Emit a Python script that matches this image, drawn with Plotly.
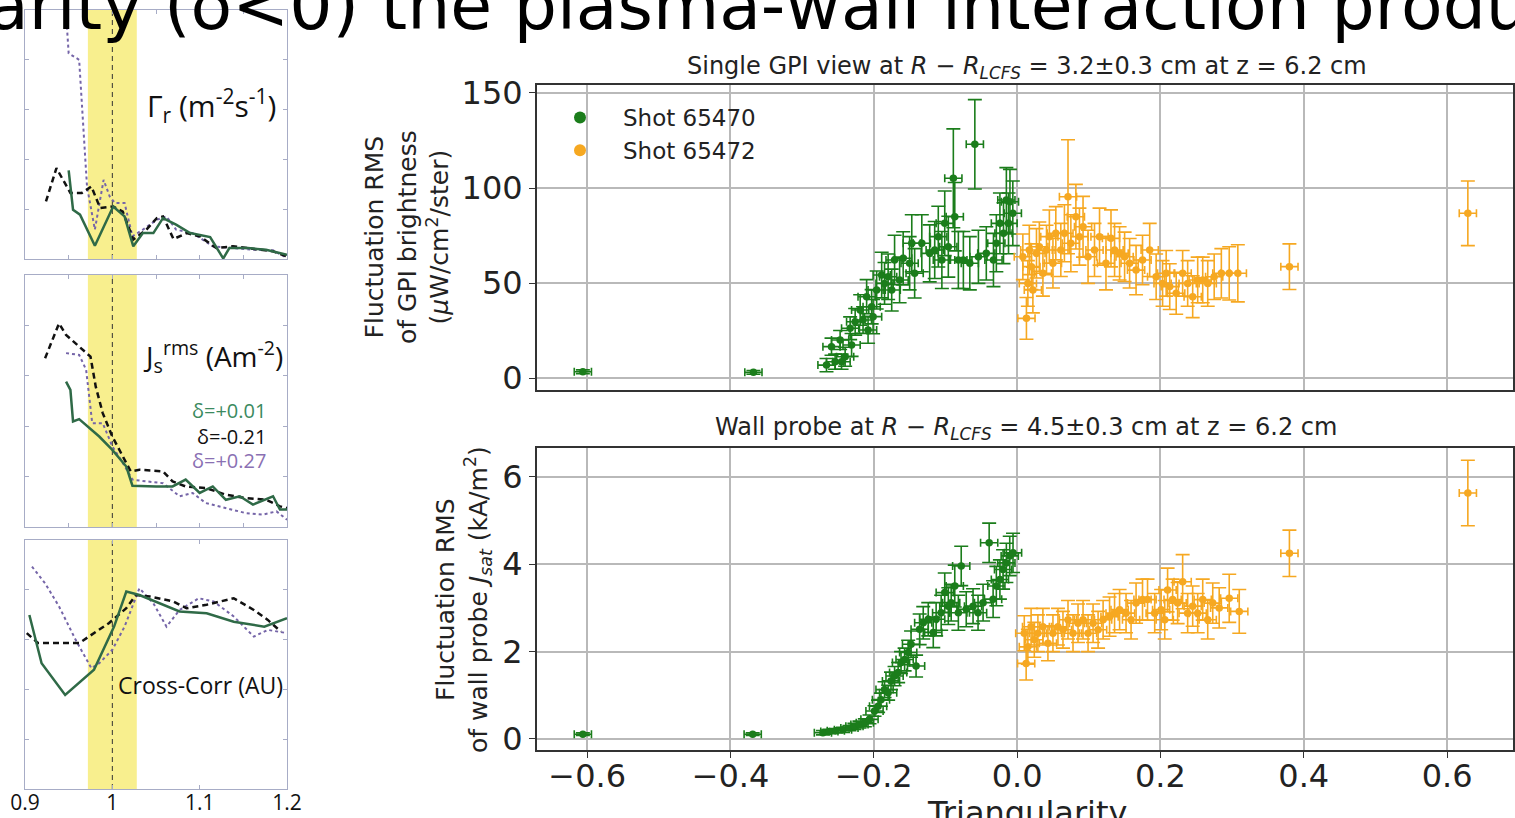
import plotly.graph_objects as go

W, H = 1515, 818

# ---------------- left column: radial profiles vs R/R_sep ----------------
# Gamma_r panel
gam_dot_x = [0.948, 0.950, 0.962, 0.971, 0.980, 0.990, 0.997, 1.003, 1.014, 1.023, 1.035, 1.051, 1.062, 1.073, 1.092, 1.115, 1.138, 1.161, 1.184, 1.200]
gam_dot_y = [0.933, 0.826, 0.800, 0.291, 0.118, 0.318, 0.251, 0.225, 0.225, 0.091, 0.118, 0.158, 0.171, 0.118, 0.104, 0.051, 0.044, 0.037, 0.035, 0.004]
gam_dash_x = [0.924, 0.936, 0.952, 0.965, 0.976, 0.986, 1.001, 1.012, 1.024, 1.039, 1.051, 1.058, 1.070, 1.085, 1.100, 1.119, 1.138, 1.161, 1.184, 1.200]
gam_dash_y = [0.231, 0.365, 0.265, 0.265, 0.291, 0.205, 0.211, 0.190, 0.078, 0.118, 0.164, 0.171, 0.080, 0.104, 0.091, 0.044, 0.051, 0.040, 0.031, 0.010]
gam_sol_x = [0.950, 0.955, 0.963, 0.980, 1.001, 1.014, 1.024, 1.035, 1.047, 1.058, 1.073, 1.089, 1.112, 1.127, 1.134, 1.155, 1.176, 1.200]
gam_sol_y = [0.356, 0.198, 0.178, 0.053, 0.211, 0.171, 0.051, 0.104, 0.104, 0.164, 0.138, 0.104, 0.088, 0.002, 0.044, 0.044, 0.037, 0.017]

# J_s rms panel
js_dash_x = [0.923, 0.939, 0.947, 0.962, 0.975, 0.981, 0.989, 1.000, 1.012, 1.021, 1.031, 1.058, 1.069, 1.084, 1.107, 1.130, 1.153, 1.176, 1.192, 1.200]
js_dash_y = [0.670, 0.808, 0.762, 0.716, 0.676, 0.557, 0.452, 0.359, 0.280, 0.221, 0.227, 0.221, 0.181, 0.161, 0.155, 0.128, 0.115, 0.108, 0.082, 0.075]
js_dot_x = [0.947, 0.962, 0.970, 0.977, 0.989, 1.000, 1.012, 1.023, 1.039, 1.058, 1.077, 1.092, 1.107, 1.130, 1.153, 1.172, 1.188, 1.200]
js_dot_y = [0.690, 0.683, 0.624, 0.412, 0.412, 0.320, 0.254, 0.188, 0.181, 0.174, 0.122, 0.135, 0.095, 0.075, 0.055, 0.049, 0.062, 0.029]
js_sol_x = [0.947, 0.952, 0.955, 0.962, 0.985, 1.000, 1.016, 1.023, 1.050, 1.069, 1.084, 1.100, 1.115, 1.130, 1.146, 1.161, 1.184, 1.192, 1.200]
js_sol_y = [0.577, 0.544, 0.419, 0.428, 0.359, 0.306, 0.240, 0.164, 0.161, 0.161, 0.188, 0.135, 0.161, 0.108, 0.122, 0.089, 0.122, 0.069, 0.069]

# Cross-correlation panel
cc_dot_x = [0.908, 0.923, 0.939, 0.958, 0.976, 0.985, 1.000, 1.014, 1.031, 1.047, 1.062, 1.077, 1.099, 1.116, 1.139, 1.162, 1.178, 1.200]
cc_dot_y = [0.893, 0.826, 0.733, 0.599, 0.485, 0.505, 0.559, 0.652, 0.806, 0.746, 0.652, 0.719, 0.766, 0.753, 0.693, 0.612, 0.639, 0.626]
cc_dash_x = [0.902, 0.915, 0.962, 0.973, 0.996, 1.016, 1.027, 1.043, 1.070, 1.085, 1.108, 1.139, 1.162, 1.178, 1.193]
cc_dash_y = [0.626, 0.586, 0.586, 0.612, 0.666, 0.726, 0.779, 0.773, 0.753, 0.726, 0.740, 0.766, 0.719, 0.679, 0.632]
cc_sol_x = [0.905, 0.919, 0.946, 0.979, 1.002, 1.016, 1.031, 1.050, 1.077, 1.108, 1.139, 1.174, 1.200]
cc_sol_y = [0.699, 0.505, 0.378, 0.479, 0.652, 0.793, 0.779, 0.753, 0.713, 0.706, 0.672, 0.652, 0.686]

sep_band = [0.972, 1.028]
sep_pos = 1.0
profile_ticks = [0.9, 1.0, 1.1, 1.2]
profile_ticktext = ["0.9", "1", "1.1", "1.2"]
delta_labels = ["δ=+0.01", "δ=-0.21", "δ=+0.27"]

# ---------------- right column: fluctuation RMS vs triangularity ----------------
gpi_470_x = [-0.606, -0.368, -0.266, -0.259, -0.254, -0.247, -0.245, -0.240, -0.233, -0.231, -0.226, -0.219,
             -0.215, -0.210, -0.208, -0.203, -0.201, -0.196, -0.189, -0.185, -0.180, -0.175, -0.171, -0.164,
             -0.159, -0.150, -0.147, -0.143, -0.133, -0.122, -0.115, -0.110, -0.105, -0.101, -0.096, -0.089,
             -0.087, -0.082, -0.075, -0.066, -0.059, -0.054, -0.043, -0.033, -0.029, -0.024, -0.019, -0.015,
             -0.012, -0.010, -0.006]
gpi_470_y = [3.3, 3.0, 6.8, 16.5, 8.6, 20.0, 8.6, 11.2, 26.2, 17.4, 29.6, 35.8,
             30.5, 42.8, 25.3, 37.5, 32.3, 46.3, 54.2, 49.8, 53.3, 46.3, 62.1, 51.6,
             63.0, 60.4, 70.9, 55.1, 70.9, 65.6, 67.4, 74.4, 62.1, 81.4, 69.1, 105.1,
             84.9, 62.1, 62.1, 60.4, 123.0, 63.8, 65.6, 62.1, 70.9, 81.4, 76.2, 93.7,
             81.4, 92.8, 86.7]
gpi_470_err = [1.0, 1.0, 3.5, 4.5, 4.0, 5.0, 4.0, 5.0, 6.0, 6.0, 7.0, 8.0,
               7.0, 9.0, 7.0, 9.0, 9.0, 10.0, 12.0, 11.0, 12.0, 11.0, 13.0, 12.0,
               14.0, 14.0, 15.0, 13.0, 15.0, 15.0, 15.0, 16.0, 15.0, 17.0, 16.0, 26.0,
               18.0, 15.0, 15.0, 14.0, 23.5, 14.0, 14.0, 14.0, 15.0, 16.0, 16.0, 17.0,
               16.0, 17.0, 17.0]

gpi_472_x = [0.008, 0.013, 0.015, 0.017, 0.020, 0.022, 0.027, 0.031, 0.036, 0.041, 0.045, 0.050,
             0.054, 0.061, 0.066, 0.071, 0.075, 0.082, 0.087, 0.092, 0.099, 0.108, 0.115, 0.124,
             0.131, 0.136, 0.143, 0.150, 0.157, 0.166, 0.175, 0.185, 0.194, 0.203, 0.208, 0.213,
             0.222, 0.231, 0.238, 0.245, 0.252, 0.259, 0.266, 0.275, 0.285, 0.296, 0.308, 0.380, 0.629]
gpi_472_y = [63.8, 31.4, 49.8, 67.4, 58.6, 46.3, 65.6, 69.1, 55.1, 67.4, 74.4, 60.4,
             76.2, 67.4, 76.2, 95.4, 70.9, 84.9, 74.4, 79.6, 63.8, 67.4, 74.4, 60.4,
             73.5, 67.4, 65.6, 63.8, 60.4, 56.8, 62.1, 67.4, 53.3, 49.8, 55.1, 48.1,
             44.6, 55.1, 49.8, 42.8, 51.6, 51.6, 49.8, 53.3, 55.1, 55.1, 55.1, 58.6, 86.7]
gpi_472_err = [12, 11, 12, 13, 12, 12, 13, 13, 12, 13, 14, 13,
               14, 14, 15, 30, 15, 17, 15, 16, 14, 14, 15, 14,
               15, 14, 14, 13, 13, 13, 13, 14, 12, 12, 12, 12,
               11, 12, 12, 11, 12, 12, 12, 12, 13, 14, 15, 12, 17]

wall_470_x = [-0.606, -0.369, -0.271, -0.262, -0.253, -0.243, -0.234, -0.227, -0.220, -0.2125, -0.206, -0.199,
              -0.194, -0.190, -0.185, -0.180, -0.176, -0.171, -0.166, -0.162, -0.157, -0.152, -0.148, -0.141,
              -0.136, -0.131, -0.124, -0.117, -0.113, -0.106, -0.101, -0.096, -0.092, -0.087, -0.082, -0.078,
              -0.071, -0.0615, -0.0545, -0.0475, -0.039, -0.0335, -0.029, -0.024, -0.0196, -0.015, -0.0103, -0.0057]
wall_470_y = [0.11, 0.11, 0.145, 0.17, 0.19, 0.21, 0.25, 0.29, 0.33, 0.37, 0.45, 0.64,
              0.75, 0.90, 1.13, 1.06, 1.33, 1.44, 1.52, 1.75, 1.82, 1.98, 2.17, 1.67,
              2.51, 2.66, 2.74, 2.44, 2.74, 2.89, 3.35, 3.04, 3.12, 3.50, 2.89, 3.96,
              2.97, 3.04, 2.89, 3.12, 4.49, 3.20, 3.50, 3.65, 3.88, 4.03, 4.19, 4.26]
wall_470_err = [0.03, 0.03, 0.05, 0.05, 0.05, 0.06, 0.06, 0.07, 0.08, 0.09, 0.10, 0.12,
                0.14, 0.15, 0.18, 0.17, 0.20, 0.22, 0.23, 0.25, 0.26, 0.28, 0.30, 0.25,
                0.35, 0.37, 0.38, 0.35, 0.38, 0.40, 0.45, 0.42, 0.42, 0.48, 0.40, 0.45,
                0.40, 0.40, 0.40, 0.42, 0.45, 0.42, 0.45, 0.45, 0.45, 0.45, 0.45, 0.45]

wall_472_x = [0.010, 0.0126, 0.015, 0.0195, 0.024, 0.029, 0.036, 0.043, 0.050, 0.057, 0.064, 0.071,
              0.078, 0.085, 0.092, 0.099, 0.106, 0.113, 0.120, 0.129, 0.136, 0.143, 0.152, 0.159,
              0.166, 0.175, 0.182, 0.192, 0.201, 0.206, 0.210, 0.217, 0.224, 0.231, 0.238, 0.245,
              0.252, 0.259, 0.266, 0.273, 0.282, 0.296, 0.310, 0.380, 0.629]
wall_472_y = [2.42, 1.73, 2.11, 2.57, 2.27, 2.42, 2.57, 2.19, 2.42, 2.57, 2.50, 2.73,
              2.42, 2.65, 2.73, 2.42, 2.65, 2.50, 2.73, 2.80, 2.88, 2.96, 2.88, 2.73,
              3.11, 3.19, 3.19, 2.88, 2.96, 2.73, 3.41, 3.19, 3.11, 3.60, 2.88, 3.04,
              2.88, 3.19, 2.73, 3.11, 3.00, 3.22, 2.92, 4.25, 5.63]
wall_472_err = [0.40, 0.38, 0.40, 0.42, 0.40, 0.42, 0.42, 0.40, 0.42, 0.42, 0.42, 0.44,
                0.42, 0.44, 0.44, 0.42, 0.44, 0.42, 0.44, 0.45, 0.45, 0.46, 0.45, 0.44,
                0.46, 0.47, 0.47, 0.45, 0.46, 0.44, 0.50, 0.47, 0.47, 0.62, 0.45, 0.46,
                0.45, 0.47, 0.44, 0.46, 0.46, 0.55, 0.50, 0.53, 0.75]

tri_xerr = 0.012
tri_ticks = [-0.6, -0.4, -0.2, 0.0, 0.2, 0.4, 0.6]
tri_ticktext = ["\u22120.6", "\u22120.4", "\u22120.2", "0.0", "0.2", "0.4", "0.6"]

GREEN_PROF = "#2f6a47"
PURPLE_PROF = "#7565a8"
GREEN = "#1b7d1b"
ORANGE = "#f6a821"
FRAME = "#a7acc6"


def dom_x(a, b):
    return [a / W, b / W]


def dom_y(top, bottom):
    return [1 - bottom / H, 1 - top / H]


fig = go.Figure()

profiles = [
    (1, (gam_sol_x, gam_sol_y), (gam_dash_x, gam_dash_y), (gam_dot_x, gam_dot_y)),
    (2, (js_sol_x, js_sol_y), (js_dash_x, js_dash_y), (js_dot_x, js_dot_y)),
    (3, (cc_sol_x, cc_sol_y), (cc_dash_x, cc_dash_y), (cc_dot_x, cc_dot_y)),
]
for k, sol, dash, dot in profiles:
    xa, ya = ("x" if k == 1 else f"x{k}"), ("y" if k == 1 else f"y{k}")
    fig.add_trace(go.Scatter(x=dot[0], y=dot[1], mode="lines", xaxis=xa, yaxis=ya, showlegend=False,
                             line=dict(color=PURPLE_PROF, width=2, dash="dot")))
    fig.add_trace(go.Scatter(x=dash[0], y=dash[1], mode="lines", xaxis=xa, yaxis=ya, showlegend=False,
                             line=dict(color="#111111", width=2.5, dash="6px,4px")))
    fig.add_trace(go.Scatter(x=sol[0], y=sol[1], mode="lines", xaxis=xa, yaxis=ya, showlegend=False,
                             line=dict(color=GREEN_PROF, width=2.5)))


def err_trace(x, y, err, color, name, xa, ya, legend):
    return go.Scatter(
        x=x, y=y, mode="markers", name=name, xaxis=xa, yaxis=ya, showlegend=legend,
        marker=dict(color=color, size=7.5),
        error_y=dict(type="data", array=err, color=color, thickness=1.6, width=7),
        error_x=dict(type="constant", value=tri_xerr, color=color, thickness=1.6, width=4),
    )


fig.add_trace(err_trace(gpi_470_x, gpi_470_y, gpi_470_err, GREEN, "Shot 65470", "x4", "y4", True))
fig.add_trace(err_trace(gpi_472_x, gpi_472_y, gpi_472_err, ORANGE, "Shot 65472", "x4", "y4", True))
fig.add_trace(err_trace(wall_470_x, wall_470_y, wall_470_err, GREEN, "Shot 65470", "x5", "y5", False))
fig.add_trace(err_trace(wall_472_x, wall_472_y, wall_472_err, ORANGE, "Shot 65472", "x5", "y5", False))

# profile panel axes
prof_box = [(10, 259), (275, 527), (540, 789)]
prof_x = dict(range=[0.9, 1.2], showline=True, linecolor=FRAME, linewidth=1, mirror="ticks",
              ticks="inside", ticklen=4, tickcolor=FRAME, showgrid=False, zeroline=False,
              tickvals=[0.95, 1.0, 1.05, 1.1, 1.15], showticklabels=False, automargin=False)
prof_y = dict(range=[0, 1], showline=True, linecolor=FRAME, linewidth=1, mirror="ticks",
              ticks="inside", ticklen=4, tickcolor=FRAME, showgrid=False, zeroline=False,
              tickvals=[0.2, 0.4, 0.6, 0.8], showticklabels=False, automargin=False)
layout_axes = {}
for k, (t, b) in enumerate(prof_box, start=1):
    sx = "xaxis" if k == 1 else f"xaxis{k}"
    sy = "yaxis" if k == 1 else f"yaxis{k}"
    ax = dict(prof_x, domain=dom_x(25, 287), anchor="y" if k == 1 else f"y{k}")
    if k == 3:
        ax.update(showticklabels=True, tickvals=profile_ticks, ticktext=profile_ticktext,
                  ticklabelstandoff=-5, tickfont=dict(family="Open Sans", size=21, color="#111"))
    layout_axes[sx] = ax
    layout_axes[sy] = dict(prof_y, domain=dom_y(t, b), anchor="x" if k == 1 else f"x{k}")

# triangularity axes
tri_x = dict(range=[-0.670, 0.692], tickvals=tri_ticks, ticktext=tri_ticktext, showgrid=True,
             gridcolor="#b9b9b9", gridwidth=1.5, showline=True, linecolor="#333", linewidth=2,
             mirror=True, zeroline=False, domain=dom_x(537, 1513), automargin=False,
             tickfont=dict(family="DejaVu Sans", size=32, color="#222"))
tri_y = dict(showgrid=True, gridcolor="#b9b9b9", gridwidth=1.5, showline=True, linecolor="#333",
             linewidth=2, mirror=True, zeroline=False, ticks="outside", ticklen=6, tickcolor="#333",
             automargin=False, tickfont=dict(family="DejaVu Sans", size=32, color="#222"))
layout_axes["xaxis4"] = dict(tri_x, anchor="y4", showticklabels=False, ticks="")
layout_axes["yaxis4"] = dict(tri_y, anchor="x4", range=[-6.3, 154.2], tickvals=[0, 50, 100, 150],
                             domain=dom_y(85, 390))
layout_axes["xaxis5"] = dict(tri_x, anchor="y5", ticks="outside", ticklen=6, tickcolor="#333",
                             ticklabelstandoff=-9)
layout_axes["yaxis5"] = dict(tri_y, anchor="x5", range=[-0.252, 6.66], tickvals=[0, 2, 4, 6],
                             domain=dom_y(448, 750))

shapes = []
for k in (1, 2, 3):
    xr = "x" if k == 1 else f"x{k}"
    yd = "y domain" if k == 1 else f"y{k} domain"
    shapes.append(dict(type="rect", xref=xr, yref=yd, x0=sep_band[0], x1=sep_band[1], y0=0, y1=1,
                       fillcolor="#f8ef8e", line=dict(width=0), layer="below"))
    shapes.append(dict(type="line", xref=xr, yref=yd, x0=sep_pos, x1=sep_pos, y0=0, y1=1,
                       line=dict(color="#333", width=1, dash="5px,4px"), layer="below"))


def ann(text, x, y, size, color="#111", family="Open Sans", xanchor="center", yanchor="middle", angle=0, align="center"):
    return dict(text=text, x=x / W, y=1 - y / H, xref="paper", yref="paper", showarrow=False,
                font=dict(family=family, size=size, color=color), xanchor=xanchor, yanchor=yanchor,
                textangle=angle, align=align)


annotations = [
    ann("arity (δ&lt;0) the plasma-wall interaction produ", -15, 5, 68, color="#000",
        family="DejaVu Sans", xanchor="left"),
    ann("Γ<sub>r</sub> (m<sup>-2</sup>s<sup>-1</sup>)", 278, 106, 30, xanchor="right"),
    ann("J<sub>s</sub><sup>rms</sup> (Am<sup>-2</sup>)", 285, 356, 28, xanchor="right"),
    ann(delta_labels[0], 268, 411, 20, color="#3b8a60", xanchor="right"),
    ann(delta_labels[1], 268, 436, 20, color="#111", xanchor="right"),
    ann(delta_labels[2], 268, 461, 20, color="#8a70b3", xanchor="right"),
    ann("Cross-Corr (AU)", 285, 685, 23, xanchor="right"),
    ann("Single GPI view at <i>R</i> \u2212 <i>R<sub>LCFS</sub></i> = 3.2±0.3 cm at z = 6.2 cm", 1027, 67, 24,
        color="#222", family="DejaVu Sans"),
    ann("Wall probe at <i>R</i> \u2212 <i>R<sub>LCFS</sub></i> = 4.5±0.3 cm at z = 6.2 cm", 1026, 428, 24,
        color="#222", family="DejaVu Sans"),
    ann("Fluctuation RMS<br>of GPI brightness<br>(<i>μ</i>W/cm<sup>2</sup>/ster)", 407, 237, 25,
        color="#222", family="DejaVu Sans", angle=-90),
    ann("Fluctuation RMS<br>of wall probe <i>J<sub>sat</sub></i> (kA/m<sup>2</sup>)", 463, 600, 25,
        color="#222", family="DejaVu Sans", angle=-90),
    ann("Triangularity", 1027, 813, 32, color="#222", family="DejaVu Sans"),
]

fig.update_layout(
    width=W, height=H, margin=dict(l=0, r=0, t=0, b=0, autoexpand=False),
    paper_bgcolor="white", plot_bgcolor="white",
    shapes=shapes, annotations=annotations,
    legend=dict(x=537 / W, y=1 - 96 / H, xanchor="left", yanchor="top", bgcolor="rgba(0,0,0,0)",
                font=dict(family="DejaVu Sans", size=23, color="#222"), itemsizing="constant",
                itemwidth=76, tracegroupgap=0),
    **layout_axes,
)

fig.write_html("out.html")
